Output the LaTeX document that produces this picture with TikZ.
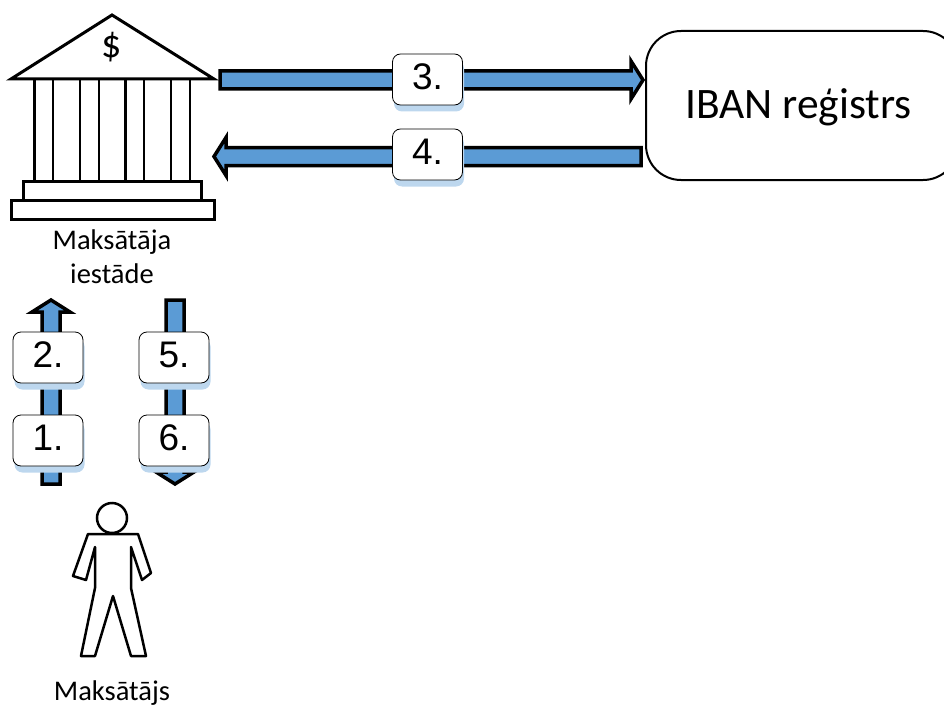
\documentclass[tikz,border=0pt]{standalone}
\usepackage{fontspec}
\setmainfont{Carlito}
\newfontfamily\numfont{Liberation Sans}
\usetikzlibrary{calc}
\definecolor{arrowblue}{HTML}{5B9BD5}
\definecolor{shadowblue}{HTML}{BDD7EE}
\tikzset{
  flowarrow/.style={draw=black, fill=arrowblue, line width=3.5pt, line join=miter},
  stepbox/.style={draw=black, fill=white, line width=0.8pt, rounded corners=8pt,
    minimum width=70pt, minimum height=51pt, inner sep=0pt, text depth=6pt,
    font=\numfont\fontsize{37}{37}\selectfont},
  stepshadow/.style={fill=shadowblue, rounded corners=8pt,
    minimum width=70pt, minimum height=51pt},
  outline/.style={draw=black, fill=white, line width=3pt},
  caption/.style={font=\fontsize{28.5}{28.5}\selectfont, inner sep=0pt, anchor=base}
}
% tail, tip
\newcommand{\blockarrow}[2]{
  \coordinate (h) at ($(#2)!12pt!(#1)$);
  \draw[flowarrow] ($(#1)!9pt!90:(#2)$) -- ($(h)!9pt!90:(#2)$) -- ($(h)!19pt!90:(#2)$)
    -- (#2) -- ($(h)!19pt!-90:(#2)$) -- ($(h)!9pt!-90:(#2)$) -- ($(#1)!9pt!-90:(#2)$) -- cycle;
}
% center, text
\newcommand{\stepnode}[3]{
  \node[stepshadow] at ($(#2)+(1.5,6.5)$) {};
  \node[stepbox] (#1) at (#2) {#3};
}
\begin{document}
\begin{tikzpicture}[x=1pt, y=-1pt]
  \useasboundingbox (0,0) rectangle (944,706);
  \clip (0,0) rectangle (944,706);
  % bank
  \draw[outline, line join=miter] (112,15) -- (214,79) -- (11,79) -- cycle;
  \node[inner sep=0pt, font=\fontsize{40}{40}\selectfont] (dollar) at (112,47) {\$};
  \foreach \x in {34.5,53,80,99,125.5,144,171,190}
    \draw[line width=2.5pt] (\x,79) -- (\x,181);
  \draw[outline] (23,181) rectangle (201,200);
  \draw[outline] (11,200) rectangle (214,219);
  \node[caption] (bankname) at (112,249) {Maksātāja};
  \node[caption] (bankname2) at (112,283) {iestāde};
  % registry
  \node[draw=black, line width=2pt, rounded corners=35pt, minimum width=312pt, minimum height=149pt,
    inner sep=0pt] (registry) at (802,105.5) {};
  \node[inner sep=0pt, anchor=base, font=\fontsize{43.5}{43.5}\selectfont] (registryname) at (798.5,119) {IBAN reģistrs};
  % arrows
  \coordinate (a3) at (220,80);
  \coordinate (b3) at (643,80);
  \coordinate (a4) at (641,156.5);
  \coordinate (b4) at (214,156.5);
  \coordinate (a2) at (51,484);
  \coordinate (b2) at (51,300);
  \coordinate (a5) at (175,300);
  \coordinate (b5) at (175,484);
  \blockarrow{a3}{b3}
  \blockarrow{a4}{b4}
  \blockarrow{a2}{b2}
  \blockarrow{a5}{b5}
  % steps
  \stepnode{s3}{427.5,79.5}{3.}
  \stepnode{s4}{427.5,154.5}{4.}
  \stepnode{s2}{48,357.5}{2.}
  \stepnode{s1}{48,440.5}{1.}
  \stepnode{s5}{174,357.5}{5.}
  \stepnode{s6}{174,440.5}{6.}
  % person
  \draw[line width=2.5pt, line join=round] (95,547) -- (86,580) -- (73,576) -- (88,534) -- (138,534)
    -- (151,573) -- (142,580) -- (131,547) -- (131,588) -- (146,656) -- (131,656) -- (113,596)
    -- (95,656) -- (81,656) -- (95,588) -- cycle;
  \node[circle, draw=black, fill=white, line width=2.5pt, minimum size=30pt, inner sep=0pt] (head) at (112,518) {};
  \node[caption] (payer) at (112,700) {Maksātājs};
\end{tikzpicture}
\end{document}
